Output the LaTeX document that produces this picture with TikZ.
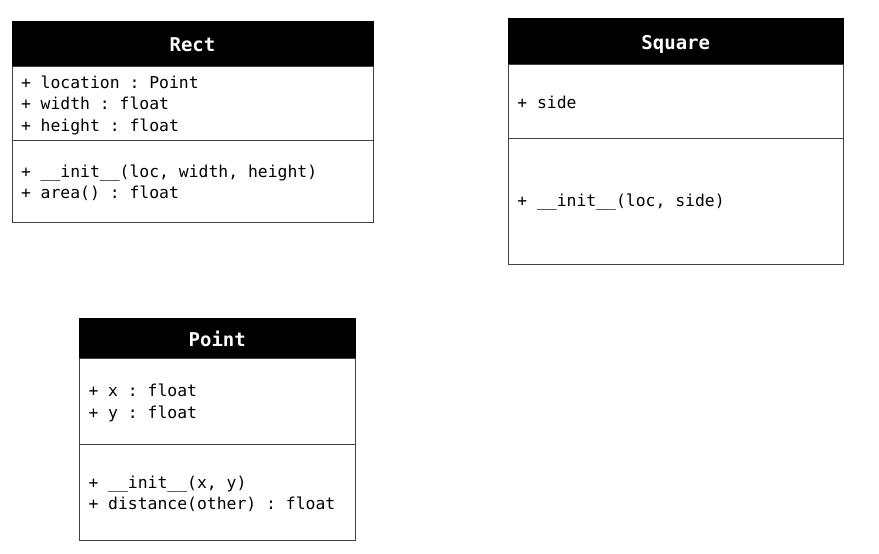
\documentclass[tikz,border=0pt]{standalone}
\usepackage{fontspec}
\setmonofont{DejaVu Sans Mono}
\newcommand{\monosp}{\spaceskip=0.602em\relax\xspaceskip=0.602em\relax}
\begin{document}
\begin{tikzpicture}[x=1pt,y=-1pt,
  comp/.style={draw=black!75, line width=1pt, inner sep=0pt, outer sep=0pt,
    anchor=north west, fill=white},
  txt/.style={inner sep=0pt, outer sep=0pt, anchor=west, align=left,
    xshift=9pt, yshift=-1.5pt,
    font=\ttfamily\fontsize{16.4}{21.5}\selectfont,
    execute at begin node=\monosp},
  head/.style={draw=black, line width=1pt, fill=black, text=white, inner sep=0pt, outer sep=0pt,
    anchor=north west, align=center, text height=16pt, text depth=0pt,
    font=\ttfamily\bfseries\fontsize{19}{22}\selectfont}
]
\useasboundingbox (0,0) rectangle (879,554);
% Rect
\node[head, minimum width=361pt, minimum height=45.5pt] (recth) at (12,21) {Rect};
\node[comp, minimum width=361pt, minimum height=74pt] (recta) at (recth.south west) {};
\node[comp, minimum width=361pt, minimum height=82pt] (rectm) at (recta.south west) {};
\node[txt] (rectat) at (recta.west) {+ location : Point\\+ width : float\\+ height : float};
\node[txt] (rectmt) at (rectm.west) {+ \_\_init\_\_(loc, width, height)\\+ area() : float};
% Square
\node[head, minimum width=335pt, minimum height=46pt] (sqh) at (508.3,18.5) {Square};
\node[comp, minimum width=335pt, minimum height=73.5pt] (sqa) at (sqh.south west) {};
\node[comp, minimum width=335pt, minimum height=126pt] (sqm) at (sqa.south west) {};
\node[txt] (sqat) at (sqa.west) {+ side};
\node[txt] (sqmt) at (sqm.west) {+ \_\_init\_\_(loc, side)};
% Point
\node[head, minimum width=275.5pt, minimum height=39.5pt] (pth) at (79.5,318.5) {Point};
\node[comp, minimum width=275.5pt, minimum height=86.5pt] (pta) at (pth.south west) {};
\node[comp, minimum width=275.5pt, minimum height=95.5pt] (ptm) at (pta.south west) {};
\node[txt] (ptat) at (pta.west) {+ x : float\\+ y : float};
\node[txt] (ptmt) at (ptm.west) {+ \_\_init\_\_(x, y)\\+ distance(other) : float};
\end{tikzpicture}
\end{document}
